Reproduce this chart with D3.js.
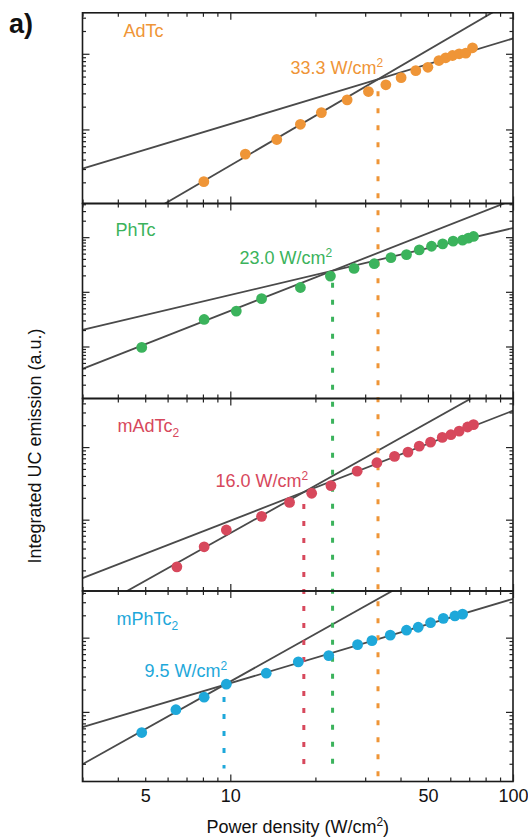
<!DOCTYPE html>
<html>
<head>
<meta charset="utf-8">
<script src="https://cdn.jsdelivr.net/npm/d3@7/dist/d3.min.js"></script>
<style>
  body { margin: 0; background: #fff; }
  text { font-family: "Liberation Sans", Arial, sans-serif; }
</style>
</head>
<body>
<div id="chart"></div>
<script>
// ---- data ----
const sampleNames = ['AdTc', 'PhTc', 'mAdTc', 'mPhTc'];
const sampleSubs = ['', '', '2', '2'];
const sampleColors = ['#ef9537', '#3bb35c', '#d7485c', '#1ea8da'];
const thresholdLabels = ['33.3', '23.0', '16.0', '9.5'];

const adtcPower = [8.06, 11.3, 14.6, 17.7, 21.0, 25.9, 30.8, 35.5, 40.2, 45.3, 50.0, 54.7, 57.8, 61.1, 64.5, 68.1, 71.9];
const adtcEmission = [2.04, 4.72, 7.36, 11.7, 16.7, 24.6, 31.7, 38.9, 48.3, 59.8, 66.3, 81.4, 88.5, 94.9, 100, 102, 120];

const phtcPower = [4.86, 8.08, 10.5, 12.9, 17.7, 22.6, 27.4, 32.3, 37.0, 42.0, 46.6, 51.5, 56.4, 61.4, 66.3, 69.5, 72.5];
const phtcEmission = [9.62, 31.2, 44.4, 74.9, 120, 194, 268, 327, 422, 480, 586, 682, 755, 844, 881, 959, 1030];

const madtcPower = [6.47, 8.08, 9.68, 12.9, 16.2, 19.4, 22.7, 28.1, 33.0, 38.1, 42.5, 46.6, 51.1, 56.2, 60.3, 64.5, 69.1, 72.5];
const madtcEmission = [2.24, 4.23, 7.2, 11.1, 17.3, 23.1, 29.5, 46.6, 60.9, 74.4, 85.3, 103, 117, 136, 148, 166, 189, 204];

const mphtcPower = [4.86, 6.42, 8.08, 9.68, 13.4, 17.4, 22.3, 28.2, 31.7, 36.8, 42.0, 46.2, 51.1, 56.7, 62.3, 66.3];
const mphtcEmission = [5.27, 10.7, 15.8, 23.6, 33.2, 47.1, 57.3, 80.5, 91.2, 108, 126, 138, 159, 182, 196, 207];

// crossing point of the two power-law fits and their log-log slopes
const crossPower = [33.3, 23.0, 18.2, 9.5];
const crossEmission = [46.0, 243, 24.0, 23.0];
const steepSlopes = [2.18, 2.03, 2.18, 2.13];
const shallowSlopes = [1.13, 1.225, 1.515, 1.135];

const xDomain = [3, 100];
const yDomains = [[1.05, 348], [1.118, 4128], [1.04, 467], [1.154, 425]];
const xTickLabels = [5, 10, 50, 100];

const powers = [adtcPower, phtcPower, madtcPower, mphtcPower];
const emissions = [adtcEmission, phtcEmission, madtcEmission, mphtcEmission];

// ---- layout ----
const width = 528, height = 837;
const left = 82.5, right = 513;
const bounds = [12.8, 203.5, 398.5, 591, 781.5];
const nameOffsets = [[41, 24], [33, 32], [35, 33], [34, 34]];     // x from left, baseline from panel top
const thrOffsets = [[208, 61], [157, 60.5], [133, 88], [62, 85.6]];
const dropStops = [0, 16, 13, 13];                                  // gap left above bottom axis

const svg = d3.select('#chart').append('svg')
  .attr('width', width)
  .attr('height', height);

const x = d3.scaleLog().domain(xDomain).range([left, right]);
const isMajor = v => Math.abs(Math.log10(v) - Math.round(Math.log10(v))) < 1e-6;

const lineLayer = svg.append('g');
const dropLayer = svg.append('g');
const pointLayer = svg.append('g');
const frameLayer = svg.append('g');
const textLayer = svg.append('g');

function tickGroup(parent, axisFn, scale, values, size, transform) {
  const g = parent.append('g').attr('transform', transform)
    .call(axisFn(scale).tickValues(values).tickSize(size).tickSizeOuter(0).tickFormat(''));
  g.select('.domain').remove();
  g.selectAll('line').attr('stroke', '#222').attr('stroke-width', 1.2);
}

const ys = [];

sampleNames.forEach((name, i) => {
  const top = bounds[i], bottom = bounds[i + 1];
  const y = d3.scaleLog().domain(yDomains[i]).range([bottom, top]);
  ys.push(y);

  // clip for fit lines
  svg.append('clipPath').attr('id', 'clip' + i)
    .append('rect').attr('x', left).attr('y', top)
    .attr('width', right - left).attr('height', bottom - top);

  // fit lines
  const line = d3.line().x(d => x(d[0])).y(d => y(d[1]));
  [steepSlopes[i], shallowSlopes[i]].forEach(k => {
    const pts = xDomain.map(p => [p, crossEmission[i] * Math.pow(p / crossPower[i], k)]);
    lineLayer.append('path')
      .attr('d', line(pts))
      .attr('clip-path', `url(#clip${i})`)
      .attr('fill', 'none')
      .attr('stroke', '#4a4a4a')
      .attr('stroke-width', 1.8);
  });

  // points
  pointLayer.selectAll('circle.p' + i)
    .data(powers[i].map((p, j) => [p, emissions[i][j]]))
    .enter()
    .append('circle')
    .attr('class', 'p' + i)
    .attr('cx', d => x(d[0]))
    .attr('cy', d => y(d[1]))
    .attr('r', 5.4)
    .attr('fill', sampleColors[i]);

  // frame
  frameLayer.append('rect')
    .attr('x', left).attr('y', top)
    .attr('width', right - left).attr('height', bottom - top)
    .attr('fill', 'none').attr('stroke', '#1a1a1a').attr('stroke-width', 1.6);

  const xt = x.ticks();
  const xMaj = xt.filter(isMajor), xMin = xt.filter(v => !isMajor(v));
  tickGroup(frameLayer, d3.axisBottom, x, xMaj, 7, `translate(0,${top})`);
  tickGroup(frameLayer, d3.axisBottom, x, xMin, 4, `translate(0,${top})`);
  tickGroup(frameLayer, d3.axisTop, x, xMaj, 7, `translate(0,${bottom})`);
  tickGroup(frameLayer, d3.axisTop, x, xMin, 4, `translate(0,${bottom})`);

  const yt = y.ticks();
  const yMaj = yt.filter(isMajor), yMin = yt.filter(v => !isMajor(v));
  tickGroup(frameLayer, d3.axisRight, y, yMaj, 7, `translate(${left},0)`);
  tickGroup(frameLayer, d3.axisRight, y, yMin, 3.5, `translate(${left},0)`);
  tickGroup(frameLayer, d3.axisLeft, y, yMaj, 7, `translate(${right},0)`);
  tickGroup(frameLayer, d3.axisLeft, y, yMin, 3.5, `translate(${right},0)`);

  // sample name
  const t = textLayer.append('text')
    .attr('x', left + nameOffsets[i][0])
    .attr('y', top + nameOffsets[i][1])
    .attr('font-size', 18)
    .attr('fill', sampleColors[i])
    .text(name);
  if (sampleSubs[i]) {
    t.append('tspan').attr('font-size', 12).attr('dy', 5).text(sampleSubs[i]);
  }

  // threshold label
  const th = textLayer.append('text')
    .attr('x', left + thrOffsets[i][0])
    .attr('y', top + thrOffsets[i][1])
    .attr('font-size', 18)
    .attr('fill', sampleColors[i])
    .text(thresholdLabels[i] + ' W/cm');
  th.append('tspan').attr('font-size', 12).attr('dy', -7).text('2');
});

// dotted drop lines from each crossing point down towards the bottom axis
sampleNames.forEach((name, i) => {
  dropLayer.append('line')
    .attr('x1', x(crossPower[i])).attr('x2', x(crossPower[i]))
    .attr('y1', ys[i](crossEmission[i]))
    .attr('y2', bounds[4] - dropStops[i])
    .attr('stroke', sampleColors[i])
    .attr('stroke-width', 3)
    .attr('stroke-dasharray', '5 12')
    .attr('stroke-dashoffset', 5);
});

// x tick labels
const xLab = svg.append('g')
  .attr('transform', `translate(0,${bounds[4]})`)
  .call(d3.axisBottom(x).tickValues(xTickLabels).tickSize(0).tickPadding(8).tickFormat(d3.format('d')));
xLab.select('.domain').remove();
xLab.selectAll('text')
  .attr('font-size', 18)
  .attr('font-family', '"Liberation Sans", Arial, sans-serif')
  .attr('fill', '#111');

// axis titles
const xTitle = svg.append('text')
  .attr('x', (left + right) / 2)
  .attr('y', 833)
  .attr('text-anchor', 'middle')
  .attr('font-size', 18)
  .attr('fill', '#111')
  .text('Power density (W/cm');
xTitle.append('tspan').attr('font-size', 12).attr('dy', -7).text('2');
xTitle.append('tspan').attr('dy', 7).text(')');

svg.append('text')
  .attr('transform', `translate(41,446) rotate(-90)`)
  .attr('text-anchor', 'middle')
  .attr('font-size', 18)
  .attr('fill', '#111')
  .text('Integrated UC emission (a.u.)');

svg.append('text')
  .attr('x', 9)
  .attr('y', 33)
  .attr('font-size', 27)
  .attr('font-weight', 'bold')
  .attr('font-family', '"Open Sans", "Liberation Sans", sans-serif')
  .attr('fill', '#111')
  .text('a)');
</script>
</body>
</html>
